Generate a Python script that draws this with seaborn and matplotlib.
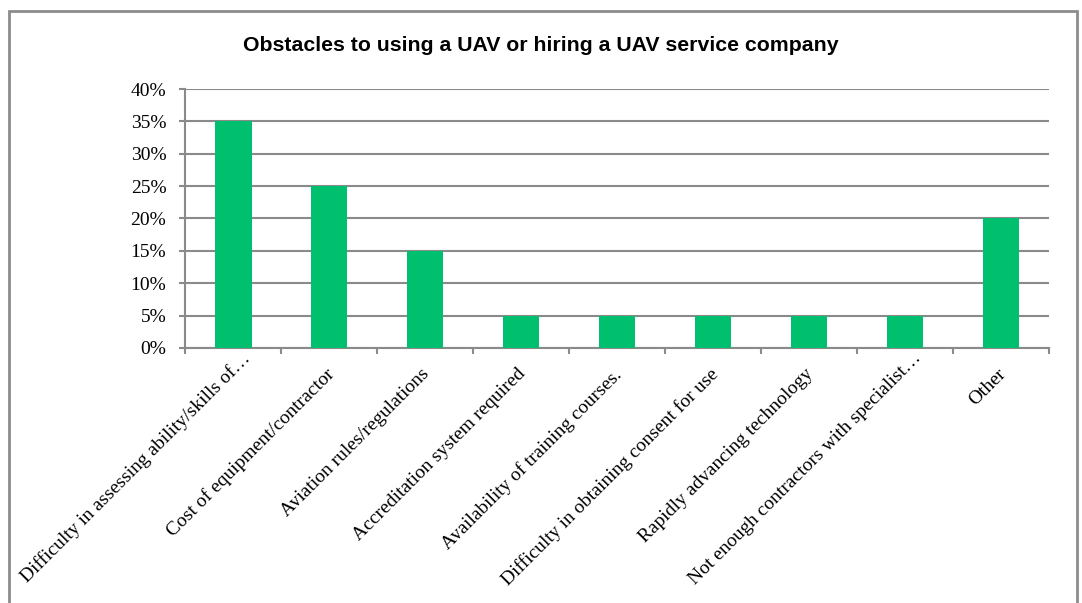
import matplotlib
matplotlib.use("Agg")
import matplotlib.pyplot as plt
import seaborn as sns
import pandas as pd
from matplotlib.patches import Rectangle
from matplotlib.ticker import FixedLocator, PercentFormatter
from matplotlib.transforms import ScaledTranslation

categories = [
    "Difficulty in assessing ability/skills of\u2026",
    "Cost of equipment/contractor",
    "Aviation rules/regulations",
    "Accreditation system required",
    "Availability of training courses.",
    "Difficulty in obtaining consent for use",
    "Rapidly advancing technology",
    "Not enough contractors with specialist\u2026",
    "Other",
]
shares = [35, 25, 15, 5, 5, 5, 5, 5, 20]
y_ticks = [0, 5, 10, 15, 20, 25, 30, 35, 40]

title = "Obstacles to using a UAV or hiring a UAV service company"
bar_color = "#00BF6F"
grid_color = "#8A8A8A"

sns.set_theme(style="white")
plt.rcParams["font.family"] = ["Liberation Serif", "DejaVu Serif"]
plt.rcParams["text.color"] = "black"
plt.rcParams["xtick.color"] = "black"
plt.rcParams["ytick.color"] = "black"

df = pd.DataFrame({"category": categories, "share": shares})

fig = plt.figure(figsize=(10.82, 6.03), dpi=100)
ax = fig.add_axes([0.171, 0.4229, 0.7985, 0.4295])

sns.barplot(data=df, x="category", y="share", color=bar_color,
            saturation=1, width=0.385, linewidth=0, ax=ax, zorder=3)

ax.set_ylim(0, 40)
ax.set_xlim(-0.5, len(categories) - 0.5)
ax.yaxis.set_major_locator(FixedLocator(y_ticks))
ax.yaxis.set_major_formatter(PercentFormatter(decimals=0))
ax.grid(axis="y", color=grid_color, linewidth=1.5, zorder=0)
ax.set_axisbelow(True)

for side in ("top", "right"):
    ax.spines[side].set_visible(False)
for side in ("left", "bottom"):
    ax.spines[side].set_color(grid_color)
    ax.spines[side].set_linewidth(1.5)

ax.set_xlabel("")
ax.set_ylabel("")

# category labels sit at bar centres, tick marks fall between categories
ax.set_xticks(range(len(categories)))
ax.set_xticklabels(categories, rotation=45, ha="right", va="top",
                   rotation_mode="anchor", fontsize=14)
ax.tick_params(axis="x", which="major", length=0, pad=4)
ax.set_xticks([i - 0.5 for i in range(len(categories) + 1)], minor=True)
ax.tick_params(axis="x", which="minor", length=4.5, width=1.5,
               color=grid_color, direction="out", bottom=True)
ax.tick_params(axis="y", length=4.5, width=1.5, color=grid_color,
               labelcolor="black", direction="out", left=True,
               labelsize=14, pad=9)

# nudge the rotated labels; truncated ones are pulled up to stay inside the frame
for lbl in ax.get_xticklabels():
    if lbl.get_text().endswith("\u2026"):
        dx, dy = 8, -4
    else:
        dx, dy = -4, 12
    lbl.set_transform(lbl.get_transform()
                      + ScaledTranslation(dx / 100, -dy / 100, fig.dpi_scale_trans))

fig.text(0.5, 0.925, title, ha="center", va="center", color="black",
         fontsize=15.3, fontweight="bold", family="Liberation Sans")

# outer chart frame
frame = Rectangle((9 / 1082, -0.02), (1077 - 9) / 1082, 1 - 11.5 / 603 + 0.02,
                  transform=fig.transFigure, fill=False,
                  edgecolor="#8C8C8C", linewidth=2)
fig.patches.append(frame)

fig.savefig("out.png", dpi=100)
